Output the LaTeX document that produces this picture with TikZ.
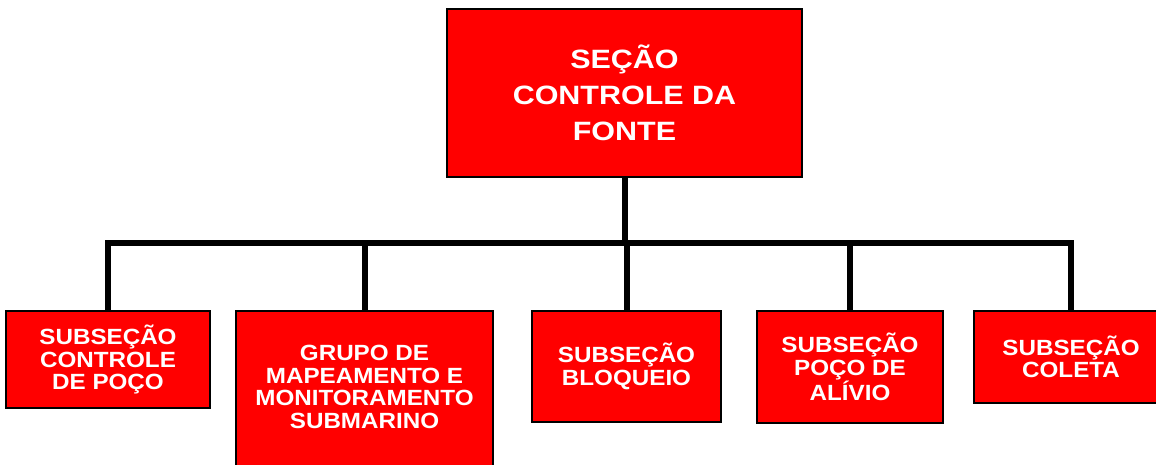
\documentclass[tikz,border=0pt]{standalone}
\usepackage{fontspec}
\setmainfont{Liberation Sans}
\newfontfamily\topfont{Liberation Sans}[FakeStretch=1.15]
\newfontfamily\subfont{Liberation Sans}[FakeStretch=1.1]
\definecolor{boxred}{HTML}{FF0000}
\tikzset{
  box/.style={draw=black, line width=2.5pt, fill=boxred, rectangle, inner sep=0pt,
    text=white, align=center},
  toptxt/.style={font=\topfont\bfseries\fontsize{26.5}{36}\selectfont},
  subtxt/.style={font=\subfont\bfseries\fontsize{22}{22.5}\selectfont},
  conn/.style={draw=black, line width=6pt, line join=miter}
}
\begin{document}
\begin{tikzpicture}[x=1pt,y=-1pt]
\useasboundingbox (0,0) rectangle (1156,464);
\node[box, toptxt, minimum width=355pt, minimum height=168pt] (top) at (624.5,93) {SEÇÃO\\CONTROLE DA\\FONTE};
\node[box, subtxt, minimum width=204pt, minimum height=97pt] (b1) at (108,359.5) {SUBSEÇÃO\\CONTROLE\\DE POÇO};
\node[box, minimum width=257pt, minimum height=160pt,
  label={[subtxt, text=white, align=center, yshift=4pt]center:{GRUPO DE\\MAPEAMENTO E\\MONITORAMENTO\\SUBMARINO}}] (b2) at (364.5,391) {};
\node[box, subtxt, minimum width=189pt, minimum height=111pt] (b3) at (626.5,366.5) {SUBSEÇÃO\\BLOQUEIO};
\node[box, subtxt, minimum width=186pt, minimum height=112pt] (b4) at (850,367) {SUBSEÇÃO\\POÇO DE\\ALÍVIO};
\node[box, subtxt, minimum width=194pt, minimum height=92pt] (b5) at (1071,357) {SUBSEÇÃO\\COLETA};
\coordinate (hl) at (624.5,243);
\draw[conn] (top.south) -- (top.south |- hl);
\draw[conn] (b1.north) -- (b1.north |- hl) -- (b5.north |- hl) -- (b5.north);
\draw[conn] (b2.north) -- (b2.north |- hl);
\draw[conn] (b3.north) -- (b3.north |- hl);
\draw[conn] (b4.north) -- (b4.north |- hl);
\end{tikzpicture}
\end{document}
